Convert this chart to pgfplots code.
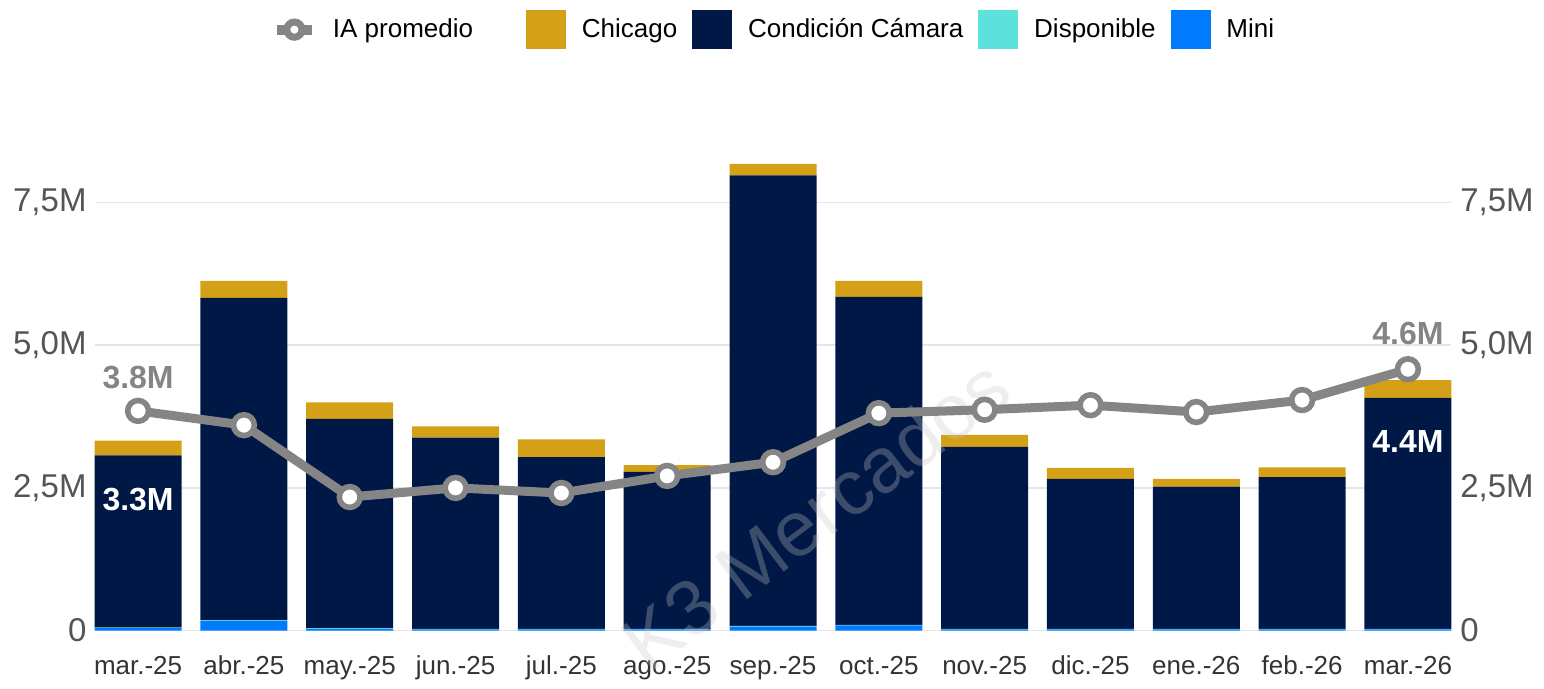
\documentclass[border=0pt]{standalone}
\usepackage{pgfplots}
\pgfplotsset{compat=1.18}
\usepackage{fontspec}
\setmainfont{Liberation Sans}
\definecolor{chicago}{HTML}{D4A017}
\definecolor{camara}{HTML}{001845}
\definecolor{disponible}{HTML}{5CE1DC}
\definecolor{mini}{HTML}{007AFF}
\definecolor{linegray}{HTML}{858585}
\definecolor{gridgray}{HTML}{E6E6E6}
\definecolor{ticktext}{HTML}{555555}
\definecolor{xtext}{HTML}{333333}
\definecolor{wmark}{HTML}{C8C8C8}

\pgfplotstableread{
x mini disp camara chicago ia
0  0.04 0.01 3.02 0.26 3.85
1  0.17 0.01 5.65 0.30 3.60
2  0.03 0.01 3.67 0.29 2.34
3  0.02 0.01 3.35 0.20 2.50
4  0.02 0.01 3.01 0.31 2.41
5  0.02 0.01 2.75 0.12 2.71
6  0.07 0.01 7.90 0.20 2.95
7  0.09 0.01 5.75 0.28 3.81
8  0.02 0.01 3.19 0.21 3.87
9  0.02 0.01 2.63 0.19 3.95
10 0.02 0.01 2.49 0.14 3.83
11 0.02 0.01 2.66 0.17 4.04
12 0.02 0.01 4.05 0.31 4.58
}\datatable

\pgfplotsset{
  common/.style={
    at={(47.35bp,29.25bp)}, anchor=south west,
    scale only axis, width=678.3bp, height=256.7bp,
    xmin=-0.41, xmax=12.41, ymin=0, ymax=9,
    clip=false,
    ytick={0,2.5,5,7.5},
    yticklabels={0,{2,5M},{5,0M},{7,5M}},
    major tick length=0pt,
    axis line style={draw=none},
    yticklabel style={font=\fontsize{16.5bp}{18bp}\selectfont, text=ticktext, inner sep=0pt},
  }
}

\begin{document}
\begin{tikzpicture}
\path[use as bounding box] (0,0) rectangle (772bp,344.5bp);
\begin{axis}[
  common,
  ybar stacked, bar width=43.5bp,
  ymajorgrids, grid style={color=gridgray, line width=0.8bp},
  yticklabel style={xshift=-3.9bp},
  xtick={0,...,12},
  xticklabels={mar.-25,abr.-25,may.-25,jun.-25,jul.-25,ago.-25,sep.-25,oct.-25,nov.-25,dic.-25,ene.-26,feb.-26,mar.-26},
  xticklabel style={font=\fontsize{13bp}{15bp}\selectfont, text=xtext, anchor=base, yshift=-21.75bp},
  legend columns=5,
  legend entries={IA promedio\rule{19bp}{0pt}, Chicago, Condición Cámara, Disponible, Mini},
  legend style={draw=none, fill=none, at={(0.5,1.1704)}, anchor=center,
    font=\fontsize{13bp}{15bp}\selectfont, text=black,
    nodes={inner xsep=0pt, inner ysep=2bp},
    /tikz/every even column/.append style={column sep=7.5bp},
    /tikz/every odd column/.append style={column sep=8bp}},
]
\addlegendimage{legend image code/.code={
  \draw[linegray, line width=5bp] (0bp,0bp) -- (17.5bp,0bp);
  \draw[fill=white, draw=linegray, line width=3.5bp] (8.75bp,0bp) circle (3.8bp);}}
\addlegendimage{legend image code/.code={\fill[chicago] (0bp,-9.5bp) rectangle (19.5bp,9.5bp);}}
\addlegendimage{legend image code/.code={\fill[camara] (0bp,-9.5bp) rectangle (19.5bp,9.5bp);}}
\addlegendimage{legend image code/.code={\fill[disponible] (0bp,-9.5bp) rectangle (19.5bp,9.5bp);}}
\addlegendimage{legend image code/.code={\fill[mini] (0bp,-9.5bp) rectangle (19.5bp,9.5bp);}}
\addplot[fill=mini, draw=none] table[x=x, y=mini] {\datatable};
\addplot[fill=disponible, draw=none] table[x=x, y=disp] {\datatable};
\addplot[fill=camara, draw=none] table[x=x, y=camara] {\datatable};
\addplot[fill=chicago, draw=none] table[x=x, y=chicago] {\datatable};
\end{axis}
\begin{axis}[
  common,
  axis y line*=right,
  hide x axis,
  yticklabel style={xshift=4.3bp, anchor=west},
]
\node[rotate=37, text=wmark, text opacity=0.3, font=\fontsize{39bp}{39bp}\selectfont] at (axis cs:6.4,2.05) {K3 Mercados};
\node[text=white, font=\bfseries\fontsize{16bp}{16bp}\selectfont] at (axis cs:0,2.29) {3.3M};
\node[text=white, font=\bfseries\fontsize{16bp}{16bp}\selectfont] at (axis cs:12,3.32) {4.4M};
\addplot[linegray, line width=4.5bp, mark=*, mark size=5.2bp,
  mark options={fill=white, draw=linegray, line width=2.8bp}] table[x=x, y=ia] {\datatable};
\node[text=linegray, font=\bfseries\fontsize{16bp}{16bp}\selectfont] at (axis cs:0,4.44) {3.8M};
\node[text=linegray, font=\bfseries\fontsize{16bp}{16bp}\selectfont] at (axis cs:12,5.21) {4.6M};
\end{axis}
\end{tikzpicture}
\end{document}
